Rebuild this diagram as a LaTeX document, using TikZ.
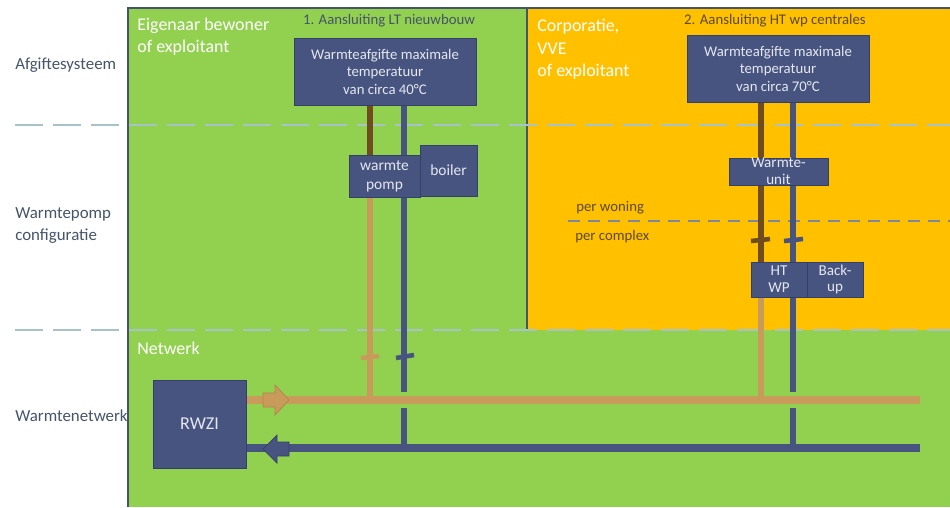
\documentclass[tikz,border=0pt]{standalone}
\usepackage{fontspec}
\setmainfont{Carlito}
\usetikzlibrary{calc}
\definecolor{grass}{HTML}{92D050}
\definecolor{amber}{HTML}{FFC000}
\definecolor{slate}{HTML}{44546A}
\definecolor{boxblue}{HTML}{47547F}
\definecolor{boxedge}{HTML}{34406A}
\definecolor{boxtext}{HTML}{E4E7F0}
\definecolor{tan}{HTML}{C99B5A}
\definecolor{tanedge}{HTML}{B5844A}
\definecolor{brown}{HTML}{6E4C20}
\definecolor{dashblue}{HTML}{A7C3C8}
\definecolor{splitgray}{HTML}{7F86A0}
\definecolor{darkamber}{HTML}{5C4A2A}
\pgfdeclarelayer{back}
\pgfdeclarelayer{pipes}
\pgfsetlayers{back,pipes,main}

\begin{document}
\begin{tikzpicture}[x=0.2mm,y=-0.2mm,
    box/.style={draw=boxedge,fill=boxblue,text=boxtext,font=\fontsize{8.4}{10}\selectfont,align=center,inner sep=0pt},
    side/.style={text=slate,font=\fontsize{9.6}{12.5}\selectfont,align=left,inner sep=0pt,anchor=west},
    owner/.style={text=white,font=\fontsize{10.2}{12.8}\selectfont,align=left,inner sep=0pt,anchor=west},
    head/.style={font=\fontsize{8.4}{10}\selectfont,inner sep=0pt},
    pipe/.style={line width=3.4pt},
    trunk/.style={line width=4pt},
    zone/.style={draw=dashblue,line width=1.6pt,dash pattern=on 5.6mm off 2mm},
    tick/.style={line width=2.6pt}]
\useasboundingbox (0,0) rectangle (950,507);

\begin{pgfonlayer}{back}
\fill[grass] (128,8) rectangle (950,507);
\fill[amber] (527,8) rectangle (950,330);
\draw[slate,line width=0.9pt] (950,8) -- (128,8) -- (128,507);
\draw[slate,line width=0.9pt] (527,8) -- (527,330);
\draw[zone] (15,125) -- (950,125);
\draw[zone] (15,330) -- (950,330);
\draw[splitgray,line width=1.2pt,dash pattern=on 2.4mm off 1.6mm] (568,221) -- (950,221);
\end{pgfonlayer}

\node[side] (afg) at (15,65) {Afgiftesysteem};
\node[side] (conf) at (15,226) {Warmtepomp\\configuratie};
\node[side] (netw) at (15,416) {Warmtenetwerk};

\node[owner] (eig) at (137,36.5) {Eigenaar bewoner\\of exploitant};
\node[owner] (corp) at (537,49.5) {Corporatie,\\VVE\\of exploitant};
\node[owner] (net) at (137,348) {Netwerk};

\node[head,text=slate] (lthead) at (389,21) {1. Aansluiting LT nieuwbouw};
\node[head,text=darkamber] (hthead) at (775,21) {2. Aansluiting HT wp centrales};
\node[head,text=darkamber,anchor=west] (won) at (576,208) {per woning};
\node[head,text=darkamber,anchor=west] (cpx) at (575,237) {per complex};

\node[box,minimum width=36.4mm,minimum height=13.4mm] (ltbox) at (385,71.5) {Warmteafgifte maximale\\temperatuur\\van circa 40°C};
\node[box,minimum width=36.4mm,minimum height=13.4mm] (htbox) at (778,68.5) {Warmteafgifte maximale\\temperatuur\\van circa 70°C};
\node[box,minimum width=14.2mm,minimum height=8.4mm,font=\fontsize{8.8}{10.8}\selectfont] (wp) at (384.5,176) {warmte\\pomp};
\node[box,minimum width=11.4mm,minimum height=10.2mm,font=\fontsize{8.8}{10.8}\selectfont] (boiler) at (448.5,170.5) {boiler};
\node[box,minimum width=19.8mm,minimum height=5.4mm,font=\fontsize{8.6}{9.6}\selectfont] (unit) at (778.5,171.5) {Warmte-\\unit};
\node[box,minimum width=11.2mm,minimum height=7mm,font=\fontsize{8.6}{9.6}\selectfont] (htwp) at (779,279.5) {HT\\WP};
\node[box,minimum width=11.2mm,minimum height=7mm,font=\fontsize{8.6}{9.6}\selectfont] (backup) at (835,279.5) {Back-\\up};
\node[box,minimum width=18.6mm,minimum height=17.6mm,font=\fontsize{10.3}{12}\selectfont] (rwzi) at (199.5,424) {RWZI};

\coordinate (ltw) at (370,0);
\coordinate (ltc) at (404,0);
\coordinate (htw) at (761,0);
\coordinate (htc) at (793,0);
\coordinate (supend) at (920,400);
\coordinate (retend) at (920,448);
\coordinate (gaptop) at (0,392);
\coordinate (gapbot) at (0,408);
\coordinate (lttick) at (0,357);
\coordinate (httick) at (0,240);

\begin{pgfonlayer}{pipes}
\draw[trunk,tan] (rwzi.east |- supend) -- (supend);
\draw[trunk,boxblue] (rwzi.east |- retend) -- (retend);
\draw[pipe,brown] (ltbox.south -| ltw) -- (wp.north -| ltw);
\draw[pipe,tan] (wp.south -| ltw) -- (ltw |- supend);
\draw[pipe,boxblue] (ltbox.south -| ltc) -- (ltc |- gaptop);
\draw[pipe,boxblue] (ltc |- gapbot) -- (ltc |- retend);
\draw[pipe,brown] (htbox.south -| htw) -- (htwp.north -| htw);
\draw[pipe,tan] (htwp.south -| htw) -- (htw |- supend);
\draw[pipe,boxblue] (htbox.south -| htc) -- (htc |- gaptop);
\draw[pipe,boxblue] (htc |- gapbot) -- (htc |- retend);
\end{pgfonlayer}

\draw[tick,tan] ($(ltw |- lttick)+(-9,1)$) -- ($(ltw |- lttick)+(9,-1)$);
\draw[tick,boxblue] ($(ltc |- lttick)+(-8,1)$) -- ($(ltc |- lttick)+(10,-2)$);
\draw[tick,brown] ($(htw |- httick)+(-10,1)$) -- ($(htw |- httick)+(9,-1)$);
\draw[tick,boxblue] ($(htc |- httick)+(-9,1)$) -- ($(htc |- httick)+(10,-1)$);

\filldraw[fill=tan,draw=tanedge,shift={(276,400)}] (-13,-7) -- (-1,-7) -- (-1,-15) -- (13,0) -- (-1,15) -- (-1,7) -- (-13,7) -- cycle;
\filldraw[fill=boxblue,draw=boxedge,shift={(276,449)}] (13,-7) -- (1,-7) -- (1,-14) -- (-13,0) -- (1,14) -- (1,7) -- (13,7) -- cycle;
\end{tikzpicture}
\end{document}
